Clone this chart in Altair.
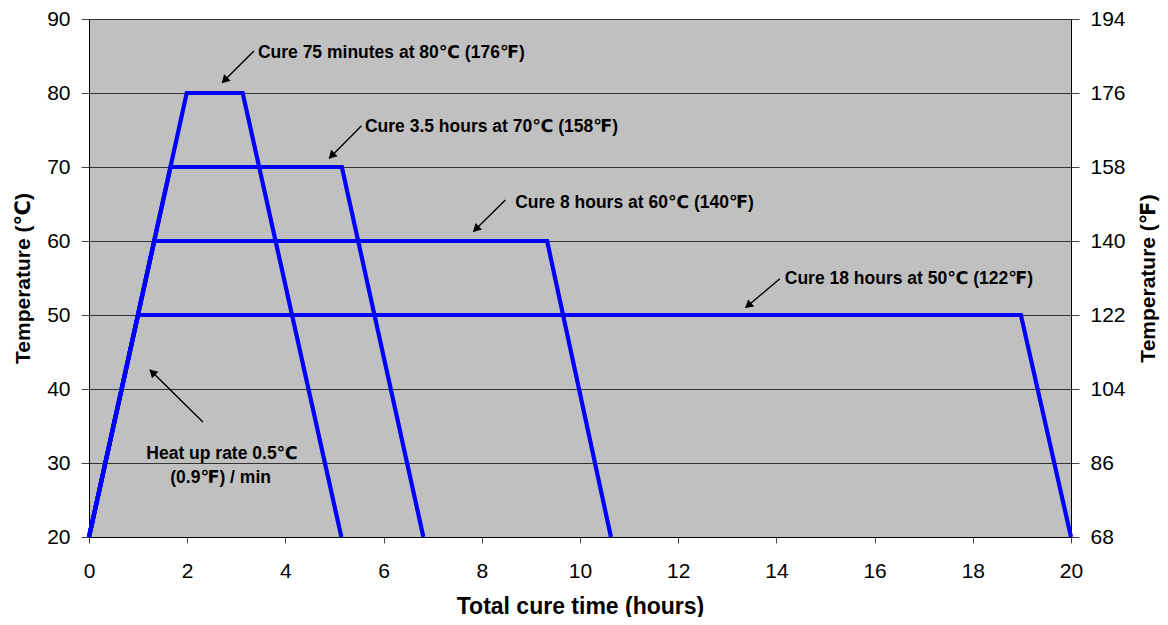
import math
import altair as alt
import pandas as pd

# ---- cure profiles (hours, deg C) ----
series_names = ["80C", "70C", "60C", "50C"]
hours_80 = [0, 1.99, 3.13, 5.14]
temps_80 = [20, 80, 80, 20]
hours_70 = [0, 1.66, 5.15, 6.81]
temps_70 = [20, 70, 70, 20]
hours_60 = [0, 1.33, 9.33, 10.63]
temps_60 = [20, 60, 60, 20]
hours_50 = [0, 1.0, 18.98, 20.0]
temps_50 = [20, 50, 50, 20]

# ---- axis ticks ----
x_ticks = [0, 2, 4, 6, 8, 10, 12, 14, 16, 18, 20]
c_ticks = [20, 30, 40, 50, 60, 70, 80, 90]
f_ticks = [68, 86, 104, 122, 140, 158, 176, 194]

# ---- annotations ----
ann_text = ["Cure 75 minutes at 80℃ (176℉)", "Cure 3.5 hours at 70℃ (158℉)",
            "Cure 8 hours at 60℃ (140℉)", "Cure 18 hours at 50℃ (122℉)"]
ann_x = [3.44, 5.62, 8.68, 14.17]
ann_y = [85.45, 75.34, 65.09, 54.89]

heat_text = ["Heat up rate 0.5℃", "(0.9℉) / min"]
heat_x = [2.71, 2.68]
heat_y = [31.2, 28.0]

arrow_tail_x = [3.36, 5.55, 8.48, 14.07, 2.32]
arrow_tail_y = [85.68, 75.57, 65.55, 54.89, 35.55]
arrow_head_x = [2.71, 4.89, 7.83, 13.37, 1.24]
arrow_head_y = [81.37, 71.16, 61.27, 50.98, 42.6]

W, H = 982, 518
PX_X = W / 20.0
PX_Y = H / 70.0

rows = []
for name, hs, ts in zip(series_names, [hours_80, hours_70, hours_60, hours_50],
                        [temps_80, temps_70, temps_60, temps_50]):
    for i, (h, t) in enumerate(zip(hs, ts)):
        rows.append({"series": name, "hours": h, "temp": t, "ord": i})
lines_df = pd.DataFrame(rows)

arrows_df = pd.DataFrame({"tx": arrow_tail_x, "ty": arrow_tail_y,
                          "hx": arrow_head_x, "hy": arrow_head_y})
angles, px, py = [], [], []
for tx, ty, hx, hy in zip(arrow_tail_x, arrow_tail_y, arrow_head_x, arrow_head_y):
    dx = (hx - tx) * PX_X
    dy = -(hy - ty) * PX_Y
    ang = math.degrees(math.atan2(dx, -dy)) % 360
    angles.append(ang)
    n = math.hypot(dx, dy)
    back = 3.5
    px.append(hx - dx / n * back / PX_X)
    py.append(hy + dy / n * back / PX_Y)
arrows_df["angle"] = angles
arrows_df["px"] = px
arrows_df["py"] = py

ann_df = pd.DataFrame({"x": ann_x, "y": ann_y, "label": ann_text})
heat_df = pd.DataFrame({"x": heat_x, "y": heat_y, "label": heat_text})
f_df = pd.DataFrame({"f": f_ticks})

FONT = "Liberation Sans, Arial, DejaVu Sans"

x_scale = alt.Scale(domain=[0, 20], nice=False, zero=False)
y_scale = alt.Scale(domain=[20, 90], nice=False, zero=False)

x_enc = alt.X("hours:Q", scale=x_scale,
              axis=alt.Axis(values=x_ticks, grid=False, title="Total cure time (hours)",
                            tickSize=6, labelPadding=28, labelBaseline="middle",
                            labelFlush=False, labelOverlap=False, labelBound=False,
                            titleFontSize=23,
                            titleX=W / 2, titleY=69, titleBaseline="middle"))
y_enc = alt.Y("temp:Q", scale=y_scale,
              axis=alt.Axis(values=c_ticks, grid=True, title="Temperature (℃)",
                            tickSize=8, labelPadding=11, labelFlush=False,
                            labelOverlap=False, labelBound=False,
                            titleAngle=270, titleX=-66, titleY=H / 2,
                            titleAlign="center", titleBaseline="middle"))

lines = alt.Chart(lines_df).mark_line(color="#0000FF", strokeWidth=4.2, strokeJoin="miter").encode(
    x=x_enc, y=y_enc, detail="series:N", order="ord:Q")

rules = alt.Chart(arrows_df).mark_rule(color="black", strokeWidth=1.4).encode(
    x=alt.X("tx:Q", scale=x_scale), y=alt.Y("ty:Q", scale=y_scale),
    x2="hx:Q", y2="hy:Q")

heads = alt.Chart(arrows_df).mark_point(shape="triangle-up", filled=True, color="black",
                                        size=85, opacity=1).encode(
    x=alt.X("px:Q", scale=x_scale), y=alt.Y("py:Q", scale=y_scale),
    angle=alt.Angle("angle:Q", scale=None))

texts = alt.Chart(ann_df).mark_text(align="left", baseline="middle", font=FONT,
                                    fontSize=17.5, fontWeight="bold", color="black").encode(
    x=alt.X("x:Q", scale=x_scale), y=alt.Y("y:Q", scale=y_scale), text="label:N")

heat = alt.Chart(heat_df).mark_text(align="center", baseline="middle", font=FONT,
                                    fontSize=17.5, fontWeight="bold", color="black").encode(
    x=alt.X("x:Q", scale=x_scale), y=alt.Y("y:Q", scale=y_scale), text="label:N")

inner = alt.layer(lines, rules, heads, texts, heat)

right = alt.Chart(f_df).mark_point(opacity=0).encode(
    x=alt.value(0),
    y=alt.Y("f:Q", scale=alt.Scale(domain=[68, 194], nice=False, zero=False),
            axis=alt.Axis(orient="right", values=f_ticks, grid=False,
                          title="Temperature (℉)", tickSize=8, labelPadding=11,
                          labelFlush=False, labelOverlap=False, labelBound=False,
                          titleAngle=270, titleX=77, titleY=H / 2,
                          titleAlign="center", titleBaseline="middle")))

chart = alt.layer(inner, right).resolve_scale(y="independent").properties(
    width=W, height=H,
    autosize=alt.AutoSizeParams(type="none"),
    padding={"left": 81, "top": 11, "right": 89, "bottom": 80},
    background="white",
).configure_view(fill="#C0C0C0", stroke="transparent").configure_axis(
    labelFont=FONT, labelFontSize=21, labelColor="black",
    titleFont=FONT, titleFontSize=21, titleFontWeight="bold", titleColor="black",
    domainColor="black", domainWidth=1, tickColor="#444444", tickWidth=1,
    gridColor="#333333", gridWidth=1, gridOpacity=1,
)

chart.save("out.html", embed_options={"renderer": "svg", "actions": False})
